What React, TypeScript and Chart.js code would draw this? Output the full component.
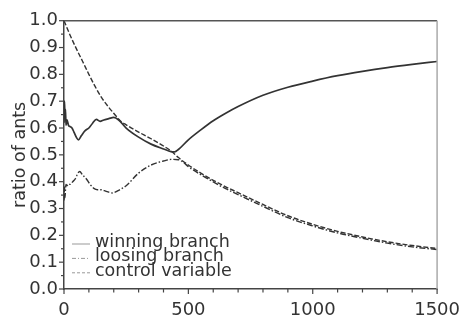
import React, { useEffect, useRef } from 'react';
import { Chart, registerables } from 'chart.js';
Chart.register(...registerables);

// ---- data ----
const winT = [0, 2, 4, 6, 8, 12, 18, 25, 32, 40, 50, 58, 70, 85, 100, 115, 130, 145, 160, 180, 200, 220, 250, 300, 350, 400, 430, 445, 460, 500, 550, 600, 650, 700, 800, 900, 1000, 1100, 1200, 1300, 1400, 1500];
const winV = [0.62, 0.70, 0.64, 0.67, 0.61, 0.63, 0.61, 0.605, 0.60, 0.585, 0.565, 0.556, 0.572, 0.59, 0.60, 0.618, 0.632, 0.625, 0.63, 0.635, 0.64, 0.63, 0.60, 0.566, 0.54, 0.522, 0.512, 0.511, 0.52, 0.556, 0.593, 0.627, 0.655, 0.68, 0.722, 0.752, 0.775, 0.795, 0.811, 0.825, 0.837, 0.848];

const losT = [0, 2, 4, 6, 8, 12, 18, 25, 35, 45, 55, 63, 75, 90, 105, 120, 135, 150, 170, 195, 220, 250, 300, 350, 400, 430, 460, 480, 500, 550, 600, 650, 700, 800, 900, 1000, 1100, 1200, 1300, 1400, 1500];
const losV = [0.33, 0.38, 0.34, 0.37, 0.39, 0.385, 0.392, 0.39, 0.40, 0.41, 0.43, 0.438, 0.425, 0.41, 0.39, 0.375, 0.37, 0.37, 0.364, 0.358, 0.368, 0.385, 0.432, 0.462, 0.477, 0.483, 0.482, 0.472, 0.456, 0.426, 0.399, 0.374, 0.352, 0.308, 0.266, 0.235, 0.209, 0.189, 0.171, 0.157, 0.147];

const ctlT = [0, 25, 50, 75, 100, 125, 150, 175, 200, 225, 250, 300, 350, 400, 430, 460, 500, 550, 600, 650, 700, 800, 900, 1000, 1100, 1200, 1300, 1400, 1500];
const ctlV = [1.0, 0.945, 0.895, 0.848, 0.80, 0.755, 0.715, 0.683, 0.655, 0.628, 0.612, 0.585, 0.56, 0.533, 0.515, 0.49, 0.462, 0.432, 0.405, 0.381, 0.359, 0.315, 0.273, 0.241, 0.215, 0.194, 0.176, 0.162, 0.151];

const seriesNames = ['winning branch', 'loosing branch', 'control variable'];
const xMajorTicks = [0, 500, 1000, 1500];
const xMinorTicks = [100, 200, 300, 400, 600, 700, 800, 900, 1100, 1200, 1300, 1400];
const yMajorTicks = [0, 0.1, 0.2, 0.3, 0.4, 0.5, 0.6, 0.7, 0.8, 0.9, 1.0];
const yMinorTicks = [0.05, 0.15, 0.25, 0.35, 0.45, 0.55, 0.65, 0.75, 0.85, 0.95];
const yTitle = 'ratio of ants';

const FONT = '"DejaVu Sans", sans-serif';
const TEXT = '#333';
const LINE = '#333';
const DASHES = [[], [6, 2, 1.5, 2], [5, 2]];
const LEGEND_DASHES = [[], [4, 2, 1, 2], [3, 2]];

const pts = (t: number[], v: number[]) => t.map((x, i) => ({ x, y: v[i] }));

const decor = {
  id: 'decor',
  afterDraw(chart: any) {
    const { ctx, chartArea: a, scales } = chart;
    const xs = scales.x, ys = scales.y;
    const seg = (x1: number, y1: number, x2: number, y2: number) => {
      ctx.beginPath(); ctx.moveTo(x1, y1); ctx.lineTo(x2, y2); ctx.stroke();
    };
    ctx.save();
    ctx.setLineDash([]);
    ctx.lineWidth = 1.5;
    ctx.strokeStyle = '#555';
    seg(a.left, a.top, a.right, a.top);
    ctx.strokeStyle = '#aaa';
    seg(a.right, a.top, a.right, a.bottom);
    ctx.strokeStyle = '#444';
    ctx.lineWidth = 1.2;
    yMajorTicks.forEach(v => { const p = ys.getPixelForValue(v); seg(a.left - 5, p, a.left, p); });
    yMinorTicks.forEach(v => { const p = ys.getPixelForValue(v); seg(a.left - 3, p, a.left, p); });
    xMajorTicks.forEach(v => { const p = xs.getPixelForValue(v); seg(p, a.bottom, p, a.bottom + 5); });
    xMinorTicks.forEach(v => { const p = xs.getPixelForValue(v); seg(p, a.bottom, p, a.bottom + 3.5); });

    // legend
    const lx = a.left + 8;
    const baseY = a.bottom - 42;
    ctx.font = '17.5px ' + FONT;
    ctx.fillStyle = TEXT;
    ctx.textBaseline = 'alphabetic';
    ctx.textAlign = 'left';
    seriesNames.forEach((n, i) => {
      const by = baseY + i * 14.4;
      ctx.strokeStyle = '#999';
      ctx.lineWidth = 1;
      ctx.setLineDash(LEGEND_DASHES[i]);
      seg(lx, by - 3, lx + 18, by - 3);
      ctx.setLineDash([]);
      ctx.fillText(n, lx + 23, by);
    });
    ctx.restore();
  },
};

export default function App() {
  const ref = useRef<HTMLCanvasElement>(null);
  useEffect(() => {
    const font = { family: FONT, size: 18 };
    const chart = new Chart(ref.current!, {
      type: 'line',
      data: {
        datasets: [
          { label: seriesNames[0], data: pts(winT, winV), borderDash: DASHES[0], borderWidth: 1.7 },
          { label: seriesNames[1], data: pts(losT, losV), borderDash: DASHES[1], borderWidth: 1.4 },
          { label: seriesNames[2], data: pts(ctlT, ctlV), borderDash: DASHES[2], borderWidth: 1.4 },
        ].map(d => ({ ...d, borderColor: LINE, pointRadius: 0, fill: false, cubicInterpolationMode: 'monotone' as const })),
      },
      options: {
        animation: false,
        responsive: false,
        devicePixelRatio: 1,
        layout: { padding: { top: 20.7, right: 24.3, left: 0, bottom: 0 } },
        plugins: { legend: { display: false }, tooltip: { enabled: false } },
        scales: {
          x: {
            type: 'linear', min: 0, max: 1500,
            ticks: { stepSize: 500, font, color: TEXT, padding: 11, maxRotation: 0, autoSkip: false, callback: (v: any) => String(v) },
            grid: { display: false, drawTicks: false, tickLength: 0 },
            border: { display: true, color: '#444', width: 1.5 },
            afterFit: (s: any) => { s.height = 26; },
          },
          y: {
            type: 'linear', min: 0, max: 1,
            ticks: { stepSize: 0.1, font, color: TEXT, padding: 6, callback: (v: any) => Number(v).toFixed(1) },
            grid: { display: false, drawTicks: false, tickLength: 0 },
            border: { display: true, color: '#444', width: 1.5 },
            title: { display: true, text: yTitle, font: { family: FONT, size: 17.5 }, color: TEXT, padding: { top: 10, bottom: 0 } },
            afterFit: (s: any) => { s.width = 64; },
          },
        },
      },
      plugins: [decor],
    });
    return () => chart.destroy();
  }, []);
  return (
    <div style={{ position: 'fixed', left: 0, top: 0, width: 471, height: 315, background: '#fff' }}>
      <canvas ref={ref} width={471} height={315} />
    </div>
  );
}
